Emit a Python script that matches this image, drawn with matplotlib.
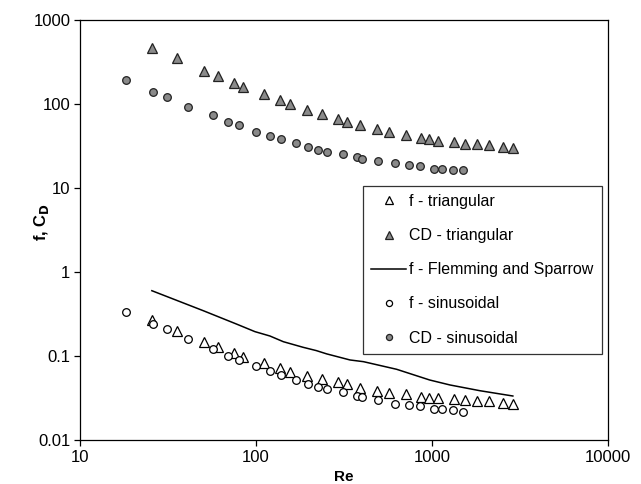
import matplotlib
matplotlib.use("Agg")
import matplotlib.pyplot as plt
from matplotlib.ticker import FixedLocator, FixedFormatter, NullLocator

plt.rcParams['font.family'] = ['Liberation Sans', 'DejaVu Sans']

# Data
re_tri = [25.6, 35.7, 50.8, 61.1, 75.3, 84.7, 111, 136, 157, 196, 236, 292, 330,
          390, 485, 572, 711, 862, 965, 1087, 1334, 1546, 1808, 2099, 2543, 2898]
cd_tri = [468, 356, 249, 217, 176, 161, 130, 112, 101, 85.5, 76.7, 66.3, 61.6,
          56.2, 50.0, 46.8, 42.8, 39.1, 38.0, 36.6, 35.0, 33.4, 33.4, 32.5, 31.0, 29.7]
f_tri = [0.268, 0.200, 0.148, 0.129, 0.108, 0.0966, 0.0819, 0.0714, 0.064, 0.0578,
         0.0528, 0.0484, 0.046, 0.0412, 0.0386, 0.0366, 0.0353, 0.0322, 0.0319,
         0.0314, 0.0305, 0.0299, 0.0294, 0.0291, 0.0273, 0.0268]

re_sin = [18.2, 25.9, 31.1, 41.2, 56.7, 69.3, 80.4, 100, 119.6, 139, 168, 197, 226,
          253, 311, 374, 399, 496, 617, 740, 855, 1026, 1145, 1322, 1507]
cd_sin = [191, 140, 120, 92.9, 73.3, 61.6, 56.2, 46.8, 42.0, 38.0, 34.0, 30.5, 28.6,
          26.8, 25.2, 23.2, 22.1, 21.0, 19.7, 18.8, 18.3, 16.8, 16.8, 16.4, 16.4]
f_sin = [0.337, 0.240, 0.208, 0.158, 0.120, 0.100, 0.0897, 0.076, 0.0663, 0.0594,
         0.0518, 0.0464, 0.0431, 0.0405, 0.0373, 0.0334, 0.0322, 0.0299, 0.0266,
         0.0261, 0.0254, 0.0234, 0.0232, 0.0228, 0.0217]

re_fs = [25.6, 50.2, 77.5, 98.6, 120, 143, 185, 220, 252, 342, 408, 629, 970,
         1265, 1874, 2880]
f_fs = [0.599, 0.346, 0.240, 0.195, 0.173, 0.148, 0.127, 0.116, 0.106, 0.0897,
        0.0856, 0.0695, 0.0518, 0.0452, 0.0386, 0.0334]

x_ticks = [10, 100, 1000, 10000]
x_ticklabels = ["10", "100", "1000", "10000"]
y_ticks = [0.01, 0.1, 1, 10, 100, 1000]
y_ticklabels = ["0.01", "0.1", "1", "10", "100", "1000"]

labels = ["f - triangular", "CD - triangular", "f - Flemming and Sparrow",
          "f - sinusoidal", "CD - sinusoidal"]

fig = plt.figure(figsize=(6.41, 4.84), dpi=100)
ax = fig.add_axes([80/641, 1-440/484, 528/641, 420/484])

gray = "#8a8a8a"
ax.plot(re_tri, f_tri, linestyle="none", marker="^", markersize=6.5,
        markerfacecolor="white", markeredgecolor="black", markeredgewidth=0.9,
        label=labels[0])
ax.plot(re_tri, cd_tri, linestyle="none", marker="^", markersize=7,
        markerfacecolor=gray, markeredgecolor="#222222", markeredgewidth=0.9,
        label=labels[1])
ax.plot(re_fs, f_fs, color="black", linewidth=1.1, label=labels[2])
ax.plot(re_sin, f_sin, linestyle="none", marker="o", markersize=5.5,
        markerfacecolor="white", markeredgecolor="black", markeredgewidth=0.9,
        label=labels[3])
ax.plot(re_sin, cd_sin, linestyle="none", marker="o", markersize=5.5,
        markerfacecolor=gray, markeredgecolor="#222222", markeredgewidth=0.9,
        label=labels[4])

ax.set_xscale("log")
ax.set_yscale("log")
ax.set_xlim(10, 10000)
ax.set_ylim(0.01, 1000)
ax.xaxis.set_major_locator(FixedLocator(x_ticks))
ax.xaxis.set_major_formatter(FixedFormatter(x_ticklabels))
ax.yaxis.set_major_locator(FixedLocator(y_ticks))
ax.yaxis.set_major_formatter(FixedFormatter(y_ticklabels))
ax.xaxis.set_minor_locator(NullLocator())
ax.yaxis.set_minor_locator(NullLocator())
ax.tick_params(axis="both", which="major", direction="out", length=4, width=0.9,
               labelsize=12, pad=3)
for s in ax.spines.values():
    s.set_linewidth(0.9)

ax.set_xlabel("Re", fontsize=11, fontweight="bold", labelpad=4)
fig.text(41.5/641, 1-222/484, r"f, C$_\mathbf{D}$", rotation=90, ha="center",
         va="center", fontsize=12, fontweight="bold")

leg = ax.legend(loc="upper left", bbox_to_anchor=((363-80)/528, (440-186)/420),
                borderaxespad=0, fontsize=11.5, frameon=True, fancybox=False,
                edgecolor="#333333", framealpha=1, labelspacing=1.2,
                handlelength=2.2, handletextpad=0.2, borderpad=0.5,
                markerscale=0.8)
leg.get_frame().set_linewidth(0.9)

fig.savefig("out.png", dpi=100)
